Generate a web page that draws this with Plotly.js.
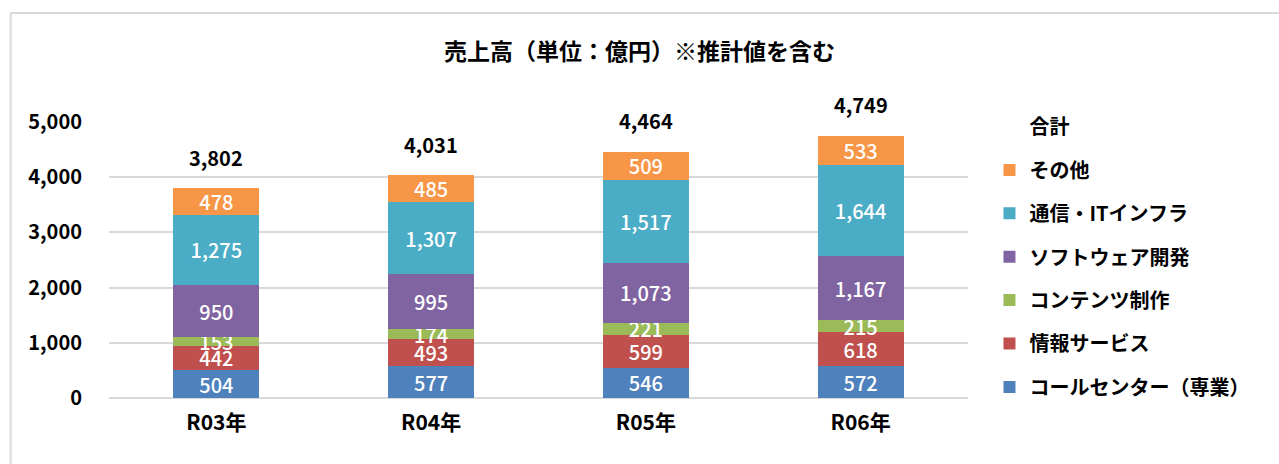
<!DOCTYPE html>
<html>
<head>
<meta charset="utf-8">
<script src="https://cdn.plot.ly/plotly-3.0.1.min.js"></script>
<style>
html,body{margin:0;padding:0;background:#fff;}
#chart{width:1279px;height:464px;}
</style>
</head>
<body>
<div id="chart"></div>
<script>
const categories = ['R03年', 'R04年', 'R05年', 'R06年'];
const callCenter = [504, 577, 546, 572];
const infoService = [442, 493, 599, 618];
const content = [153, 174, 221, 215];
const software = [950, 995, 1073, 1167];
const telecom = [1275, 1307, 1517, 1644];
const other = [478, 485, 509, 533];
const totals = [3802, 4031, 4464, 4749];
const yTicks = [0, 1000, 2000, 3000, 4000, 5000];
const yTickLabels = ['0', '1,000', '2,000', '3,000', '4,000', '5,000'];

const FONT = '"Noto Sans CJK JP", "Noto Sans", sans-serif';
const fmt = v => v.toLocaleString('en-US');

const seriesDefs = [
  {name: 'コールセンター（専業）', values: callCenter, color: '#4f81bd'},
  {name: '情報サービス', values: infoService, color: '#c0504d'},
  {name: 'コンテンツ制作', values: content, color: '#9bbb59'},
  {name: 'ソフトウェア開発', values: software, color: '#8064a2'},
  {name: '通信・ITインフラ', values: telecom, color: '#4bacc6'},
  {name: 'その他', values: other, color: '#f79646'}
];

const traces = seriesDefs.map((s, i) => ({
  type: 'bar',
  name: s.name,
  legendgroup: 'g' + i,
  legendrank: 100 - i,
  x: categories,
  y: s.values,
  marker: {color: s.color, line: {width: 0}},
  text: s.values.map(fmt),
  textposition: 'inside',
  insidetextanchor: 'middle',
  textangle: 0,
  constraintext: 'none',
  textfont: {family: FONT, size: 20, color: '#ffffff', weight: 500},
  hoverinfo: 'skip'
}));

traces.push({
  type: 'bar',
  name: '合計',
  legendgroup: 'gt',
  legendrank: 1,
  x: categories,
  y: categories.map(() => 0),
  marker: {color: 'rgba(0,0,0,0)'},
  hoverinfo: 'skip'
});

const annotations = categories.map((c, i) => ({
  x: c, y: totals[i], xref: 'x', yref: 'y',
  text: fmt(totals[i]), showarrow: false, yshift: 31,
  font: {family: FONT, size: 20, color: '#000', weight: 'bold'}
}));

const L = 108.5, R = 968.5, T = 122, B = 398;
const pw = R - L, ph = B - T;
const px = X => (X - L) / pw;
const py = Y => (B - Y) / ph;

const layout = {
  width: 1279, height: 464,
  paper_bgcolor: '#ffffff', plot_bgcolor: '#ffffff',
  margin: {l: L, r: 1279 - R, t: T, b: 464 - B, pad: 0},
  barmode: 'stack',
  bargap: 0.6,
  uniformtext: {mode: 'show', minsize: 20},
  title: {
    text: '売上高（単位：億円）※推計値を含む',
    x: 0.5, xref: 'container', xanchor: 'center',
    y: 1 - 52 / 464, yref: 'container', yanchor: 'middle',
    font: {family: FONT, size: 23, color: '#000', weight: 'bold'}
  },
  xaxis: {
    type: 'category',
    range: [-0.5, 3.5],
    showgrid: false, zeroline: false, showline: false,
    ticks: '', ticklabelstandoff: 10,
    tickfont: {family: FONT, size: 21, color: '#000', weight: 'bold'}
  },
  yaxis: {
    range: [0, 5000],
    tickvals: yTicks, ticktext: yTickLabels,
    showgrid: true, gridcolor: '#d9d9d9', gridwidth: 2,
    zeroline: true, zerolinecolor: '#d9d9d9', zerolinewidth: 2,
    showline: false, ticks: '', ticklabelstandoff: 26,
    tickfont: {family: FONT, size: 20, color: '#000', weight: 'bold'}
  },
  legend: {
    x: px(990), xanchor: 'left',
    y: py(107), yanchor: 'top',
    traceorder: 'grouped',
    tracegroupgap: 14.4,
    maxheight: 460,
    font: {family: FONT, size: 20, color: '#000', weight: 'bold'},
    bgcolor: 'rgba(0,0,0,0)'
  },
  annotations: annotations,
  shapes: [
    {type: 'line', xref: 'paper', yref: 'paper', x0: px(10), x1: px(10), y0: py(470), y1: py(13), line: {color: '#d9d9d9', width: 2}, layer: 'below'},
    {type: 'line', xref: 'paper', yref: 'paper', x0: px(10), x1: px(1290), y0: py(13), y1: py(13), line: {color: '#d9d9d9', width: 2}, layer: 'below'}
  ],
  showlegend: true
};

Plotly.newPlot('chart', traces, layout, {displayModeBar: false, staticPlot: true});
</script>
</body>
</html>
